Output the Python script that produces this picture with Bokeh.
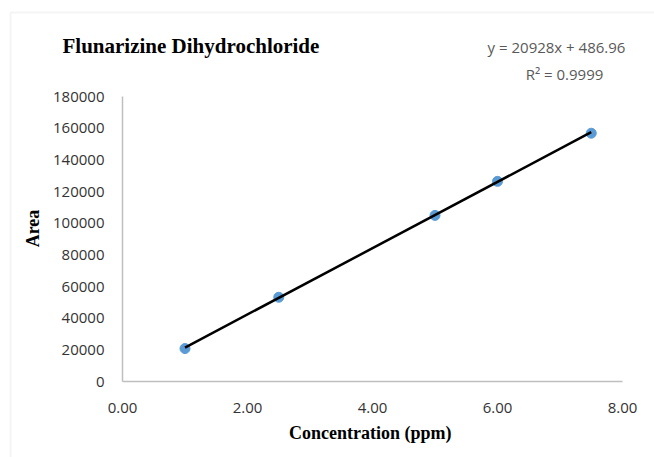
import math
from bokeh.plotting import figure
from bokeh.models import Range1d, FixedTicker, NumeralTickFormatter, Label, BoxAnnotation
from bokeh.embed import file_html
from bokeh.resources import INLINE

# Data
concentration = [1.0, 2.5, 5.0, 6.0, 7.5]
area = [20800, 53200, 104900, 126400, 156800]
slope = 20928
intercept = 486.96
r_squared = "0.9999"
x_ticks = [0, 2, 4, 6, 8]
y_ticks = [0, 20000, 40000, 60000, 80000, 100000, 120000, 140000, 160000, 180000]
title_text = "Flunarizine Dihydrochloride"
x_label = "Concentration  (ppm)"
y_label = "Area"

trend_x = [min(concentration), max(concentration)]
trend_y = [slope * v + intercept for v in trend_x]

# Layout (pixels): plot area of the chart inside the canvas
W, H = 654, 457
PX_LEFT, PX_RIGHT, PX_TOP, PX_BOTTOM = 122, 622, 96, 381
X0, X1 = x_ticks[0], x_ticks[-1]
Y0, Y1 = y_ticks[0], y_ticks[-1]
sx = (PX_RIGHT - PX_LEFT) / (X1 - X0)
sy = (PX_BOTTOM - PX_TOP) / (Y1 - Y0)
x_range = Range1d(X0 - PX_LEFT / sx, X1 + (W - PX_RIGHT) / sx)
y_range = Range1d(Y0 - (H - PX_BOTTOM) / sy, Y1 + PX_TOP / sy)

p = figure(width=W, height=H, output_backend="svg", toolbar_location=None,
           x_range=x_range, y_range=y_range,
           min_border_left=0, min_border_right=0, min_border_top=0, min_border_bottom=0)
p.outline_line_color = None
p.grid.visible = False

for ax in (p.xaxis, p.yaxis):
    ax.axis_line_color = "#bfbfbf"
    ax.axis_line_width = 1.5
    ax.major_tick_line_color = None
    ax.minor_tick_line_color = None
    ax.major_label_text_font = "Open Sans"
    ax.major_label_text_font_size = "15px"
    ax.major_label_text_color = "#333333"

p.xaxis.ticker = FixedTicker(ticks=x_ticks)
p.yaxis.ticker = FixedTicker(ticks=y_ticks)
p.xaxis.formatter = NumeralTickFormatter(format="0.00")
p.yaxis.formatter = NumeralTickFormatter(format="0")
p.xaxis.major_label_standoff = 15
p.yaxis.major_label_standoff = 12
p.xaxis.fixed_location = Y0
p.yaxis.fixed_location = X0
p.xaxis.bounds = (X0, X1)
p.yaxis.bounds = (Y0, Y1)

# chart-area border
p.add_layout(BoxAnnotation(left=10, top=12, right=2000, bottom=2000,
                           left_units="canvas", right_units="canvas",
                           top_units="canvas", bottom_units="canvas",
                           fill_color=None, line_color="#dcdcdc", line_width=2,
                           level="underlay"))

p.scatter(concentration, area, size=10, color="#5b9bd5")
p.line(trend_x, trend_y, line_color="black", line_width=2.5)

serif = dict(text_font="Liberation Serif", text_font_style="bold", text_color="black")
p.add_layout(Label(x=62, y=45, x_units="canvas", y_units="canvas", text=title_text,
                   text_font_size="21px", text_align="left", text_baseline="middle", **serif))
p.add_layout(Label(x=372, y=432, x_units="canvas", y_units="canvas", text=x_label,
                   text_font_size="18px", text_align="center", text_baseline="middle", **serif))
p.add_layout(Label(x=32, y=228, x_units="canvas", y_units="canvas", text=y_label,
                   angle=math.pi / 2, text_font_size="18px", text_align="center",
                   text_baseline="middle", **serif))

eq = dict(text_font="Open Sans", text_font_size="15px", text_color="#595959",
          text_align="center", text_baseline="middle")
p.add_layout(Label(x=556, y=46, x_units="canvas", y_units="canvas",
                   text=f"y = {slope}x + {intercept}", **eq))
p.add_layout(Label(x=564, y=73, x_units="canvas", y_units="canvas",
                   text=f"R² = {r_squared}", **eq))

open("out.html", "w").write(file_html(p, INLINE))
